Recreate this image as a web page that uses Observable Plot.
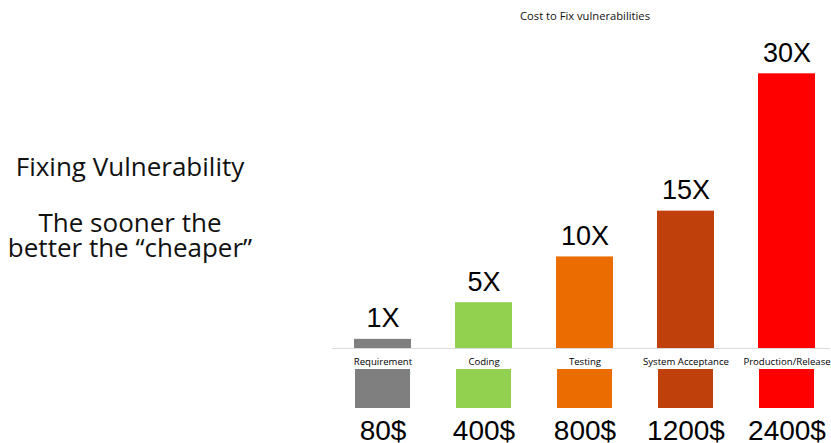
<!DOCTYPE html>
<html>
<head>
<meta charset="utf-8">
<script src="https://cdn.jsdelivr.net/npm/d3@7"></script>
<script src="https://cdn.jsdelivr.net/npm/@observablehq/plot@0.6"></script>
<style>
  html, body { margin: 0; padding: 0; background: #fff; }
  #chart svg { display: block; }
</style>
</head>
<body>
<div id="chart"></div>
<script>
// Data
const stages = ["Requirement Architecture", "Coding", "Testing", "System Acceptance", "Production/Release"];
const multipliers = [1, 5, 10, 15, 30];
const multiplierLabels = ["1X", "5X", "10X", "15X", "30X"];
const costs = [80, 400, 800, 1200, 2400];
const chartTitle = "Cost to Fix vulnerabilities";
const headline = "Fixing Vulnerability";
const tagline = "The sooner the\nbetter the “cheaper”";

// Style
const palette = ["#7f7f7f", "#92d050", "#eb6c00", "#c0400b", "#ff0000"];

const data = stages.map((stage, i) => ({
  stage,
  multiplier: multipliers[i],
  label: multiplierLabels[i],
  cost: costs[i] + "$"
}));

const W = 831, H = 443;

const chart = Plot.plot({
  width: W,
  height: H,
  marginLeft: 332,
  marginRight: 1,
  marginTop: 0,
  marginBottom: 0,
  style: { fontFamily: "Open Sans, sans-serif", background: "#fff" },
  x: { type: "band", domain: stages, range: [332, 837], paddingInner: 0.436, paddingOuter: 0.21, axis: null },
  y: { domain: [0, 30], range: [348, 73.3], axis: null },
  color: { domain: stages, range: palette },
  marks: [
    Plot.barY(data, { x: "stage", y: "multiplier", fill: "stage" }),
    Plot.ruleY([0], { stroke: "#dcdcdc", strokeWidth: 1 }),
    Plot.text(data, {
      x: "stage", y: "multiplier", text: "label",
      lineAnchor: "bottom", dy: -12,
      fontSize: 27, fontFamily: "Liberation Sans, Arial, sans-serif", fill: "#000"
    }),
    Plot.text(data, {
      x: "stage", y: () => 0, text: "stage",
      lineAnchor: "top", dy: 8, lineWidth: 10, lineHeight: 1.2,
      fontSize: 9.6, fontFamily: "Open Sans, sans-serif", fill: "#000"
    }),
    Plot.cell(data, {
      x: "stage", fill: "stage",
      insetTop: 369, insetBottom: 35, insetLeft: 1, insetRight: 1
    }),
    Plot.text(data, {
      x: "stage", text: "cost", frameAnchor: "bottom",
      lineAnchor: "bottom", dy: -4,
      fontSize: 28, fontFamily: "Liberation Sans, Arial, sans-serif", fill: "#000"
    }),
    Plot.text([chartTitle], {
      x: () => stages[2], frameAnchor: "top", dy: 19, lineAnchor: "bottom",
      fontSize: 11.2, fontFamily: "Open Sans, sans-serif", fill: "#111"
    }),
    Plot.text([headline], {
      frameAnchor: "top-left", textAnchor: "middle", dx: -202.5, dy: 175,
      lineAnchor: "bottom", fontSize: 26, fontFamily: "Open Sans, sans-serif", fill: "#111"
    }),
    Plot.text([tagline], {
      frameAnchor: "top-left", textAnchor: "middle", dx: -202.5, dy: 256.5,
      lineAnchor: "bottom", lineHeight: 0.96, fontSize: 26, fontFamily: "Open Sans, sans-serif", fill: "#111"
    })
  ]
});

document.getElementById("chart").appendChild(chart);
</script>
</body>
</html>
